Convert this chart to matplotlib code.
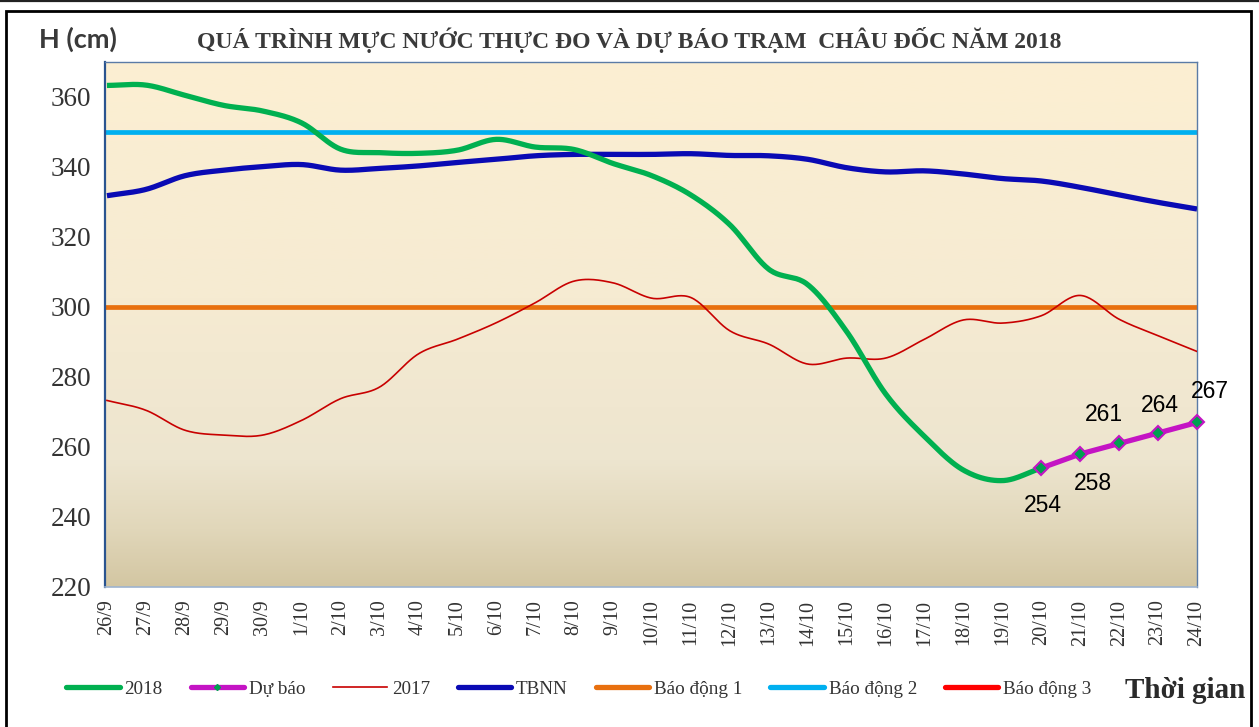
import numpy as np
import matplotlib
matplotlib.use("Agg")
import matplotlib.pyplot as plt
from matplotlib.lines import Line2D
from matplotlib.patches import Rectangle

# ---------------- data ----------------
dates = ['26/9', '27/9', '28/9', '29/9', '30/9', '1/10', '2/10', '3/10', '4/10', '5/10',
         '6/10', '7/10', '8/10', '9/10', '10/10', '11/10', '12/10', '13/10', '14/10', '15/10',
         '16/10', '17/10', '18/10', '19/10', '20/10', '21/10', '22/10', '23/10', '24/10']

h2018 = [363.3, 363.4, 360.5, 357.6, 356.0, 352.6, 345.1, 344.1, 343.9, 344.8,
         347.9, 345.7, 345.0, 341.0, 337.5, 332.0, 323.5, 310.8, 306.4, 293.0,
         275.2, 263.0, 253.4, 250.4, 254.0]

forecast_dates = ['20/10', '21/10', '22/10', '23/10', '24/10']
forecast = [254, 258, 261, 264, 267]

h2017 = [273.3, 270.5, 264.8, 263.4, 263.4, 267.6, 273.8, 277.1, 286.6, 290.8,
         295.5, 301.2, 307.4, 306.9, 302.5, 302.7, 293.2, 289.4, 283.7, 285.4,
         285.4, 290.8, 296.3, 295.4, 297.5, 303.3, 296.5, 291.8, 287.3]

tbnn = [331.8, 333.6, 337.5, 339.1, 340.1, 340.7, 339.1, 339.6, 340.3, 341.3,
        342.2, 343.2, 343.6, 343.6, 343.6, 343.8, 343.3, 343.2, 342.2, 339.8,
        338.6, 338.9, 338.0, 336.7, 336.0, 334.2, 332.0, 329.9, 328.0]

alarm1 = 300
alarm2 = 350
alarm3 = 400

yticks = [220, 240, 260, 280, 300, 320, 340, 360]

# ---------------- helpers ----------------
def smooth(x, y, n=24):
    """Uniform Catmull-Rom curve through the points (like a smoothed spreadsheet line)."""
    x = np.asarray(x, float)
    y = np.asarray(y, float)
    if len(x) < 3:
        return x, y
    px = np.concatenate([[2 * x[0] - x[1]], x, [2 * x[-1] - x[-2]]])
    py = np.concatenate([[2 * y[0] - y[1]], y, [2 * y[-1] - y[-2]]])
    xs, ys = [], []
    t = np.linspace(0, 1, n, endpoint=False)
    h00 = 2 * t**3 - 3 * t**2 + 1
    h10 = t**3 - 2 * t**2 + t
    h01 = -2 * t**3 + 3 * t**2
    h11 = t**3 - t**2
    for i in range(1, len(px) - 2):
        mx0 = (px[i + 1] - px[i - 1]) / 2
        mx1 = (px[i + 2] - px[i]) / 2
        my0 = (py[i + 1] - py[i - 1]) / 2
        my1 = (py[i + 2] - py[i]) / 2
        xs.append(h00 * px[i] + h10 * mx0 + h01 * px[i + 1] + h11 * mx1)
        ys.append(h00 * py[i] + h10 * my0 + h01 * py[i + 1] + h11 * my1)
    xs.append([px[-2]])
    ys.append([py[-2]])
    return np.concatenate(xs), np.concatenate(ys)

# ---------------- figure ----------------
W, H = 1259, 727
fig = plt.figure(figsize=(W / 100, H / 100), dpi=100)
fig.patch.set_facecolor('white')

serif = ['Liberation Serif', 'DejaVu Serif']
sans = ['Liberation Sans', 'DejaVu Sans']

ax = fig.add_axes([105 / W, 1 - 587 / H, (1197 - 105) / W, (587 - 62) / H])

x_all = np.arange(len(dates))
ax.set_xlim(-0.05, len(dates) - 1)
ax.set_ylim(220, 370)

# gradient background
stops_pos = np.array([0.0, 0.45, 0.76, 0.89, 1.0])
stops_col = np.array([[252, 239, 210], [246, 235, 210], [237, 229, 207],
                      [225, 215, 186], [211, 198, 162]]) / 255.0
yy = np.linspace(0, 1, 400)
grad = np.stack([np.interp(yy, stops_pos, stops_col[:, k]) for k in range(3)], axis=-1)
ax.imshow(grad[:, None, :], extent=[-0.05, len(dates) - 1, 220, 370], aspect='auto',
          origin='upper', zorder=0, interpolation='bilinear')

# lines
c_green = '#00B050'
c_mag = '#C414C4'
c_red17 = '#C80000'
c_blue = '#0A0AB4'
c_orange = '#E8700F'
c_lblue = '#00B0F0'
c_red = '#FF0000'

ax.axhline(alarm1, color=c_orange, lw=3.4, zorder=2)
ax.axhline(alarm2, color=c_lblue, lw=3.4, zorder=2)
ax.axhline(alarm3, color=c_red, lw=3.4, zorder=2)

sx, sy = smooth(x_all, tbnn)
ax.plot(sx, sy, color=c_blue, lw=3.8, zorder=3, solid_capstyle='butt')
sx, sy = smooth(x_all, h2017)
ax.plot(sx, sy, color=c_red17, lw=1.2, zorder=3)
x18 = np.arange(len(h2018))
sx, sy = smooth(x18, h2018)
ax.plot(sx, sy, color=c_green, lw=3.8, zorder=4, solid_capstyle='butt')

xf = np.array([dates.index(d) for d in forecast_dates])
ax.plot(xf, forecast, color=c_mag, lw=3.8, zorder=5, marker='D', markersize=7,
        markerfacecolor='#00A050', markeredgecolor=c_mag, markeredgewidth=1.5, clip_on=False)

# data labels
offsets = [(1, -27), (9, -21), (-11, 21), (1, 20), (9, 22)]
for xv, v, (dx, dy) in zip(xf, forecast, offsets):
    ax.annotate(f'{v}', (xv, v), xytext=(dx, dy), textcoords='offset points',
                ha='center', va='center', fontsize=16.5, family=sans, color='black',
                zorder=6, annotation_clip=False)

# axes styling
ax.set_xticks(x_all)
ax.set_xticklabels(dates, rotation=90, family=serif, fontsize=14.5, color='#333333')
ax.set_yticks(yticks)
ax.set_yticklabels([str(v) for v in yticks], family=serif, fontsize=19.5, color='#333333')
ax.tick_params(axis='x', length=0, pad=9)
ax.tick_params(axis='y', length=0, pad=10)
for s in ['top', 'right']:
    ax.spines[s].set_color('#5A7BA6')
    ax.spines[s].set_linewidth(1.0)
ax.spines['left'].set_color('#2A5490')
ax.spines['left'].set_linewidth(1.6)
ax.spines['bottom'].set_color('#9DB3CF')
ax.spines['bottom'].set_linewidth(1.2)

# titles
fig.text(629 / W, 1 - 40 / H, 'QUÁ TRÌNH MỰC NƯỚC THỰC ĐO VÀ DỰ BÁO TRẠM  CHÂU ĐỐC NĂM 2018',
         ha='center', va='center', family=serif, fontsize=17, fontweight='bold', color='#3A3A3A')
fig.text(39 / W, 1 - 39 / H, 'H (cm)', ha='left', va='center', family=['Lato', 'DejaVu Sans'],
         fontsize=19.5, fontweight='bold', color='#3A3A3A')
fig.text(1185 / W, 1 - 690 / H, 'Thời gian', ha='center', va='center', family=serif,
         fontsize=21, fontweight='bold', color='#2A2A2A')

# legend
handles = [
    Line2D([], [], color=c_green, lw=3.8, solid_capstyle='round'),
    Line2D([], [], color=c_mag, lw=3.8, marker='D', markersize=3, solid_capstyle='round',
           markerfacecolor='#00A050', markeredgecolor='#00A050'),
    Line2D([], [], color=c_red17, lw=1.2),
    Line2D([], [], color=c_blue, lw=3.8, solid_capstyle='round'),
    Line2D([], [], color=c_orange, lw=3.8, solid_capstyle='round'),
    Line2D([], [], color=c_lblue, lw=3.8, solid_capstyle='round'),
    Line2D([], [], color=c_red, lw=3.8, solid_capstyle='round'),
]
labels = ['2018', 'Dự báo', '2017', 'TBNN', 'Báo động 1', 'Báo động 2', 'Báo động 3']
leg = fig.legend(handles, labels, ncol=7, loc='center left',
                 bbox_to_anchor=(66 / W, 1 - 689 / H), frameon=False,
                 prop={'family': serif, 'size': 13.8}, handlelength=2.8,
                 handletextpad=0.25, columnspacing=1.45, borderaxespad=0, borderpad=0)
for t in leg.get_texts():
    t.set_color('#333333')

# outer frame
fig.add_artist(Line2D([0, 1], [1 - 1 / H, 1 - 1 / H], transform=fig.transFigure,
                      color='#222222', lw=1.6))
fig.add_artist(Rectangle((6 / W, -0.05), (1251 - 6) / W, 1.05 - 11 / H,
                         transform=fig.transFigure, fill=False, edgecolor='black', lw=2.0))

fig.savefig('out.png', dpi=100, facecolor='white')
